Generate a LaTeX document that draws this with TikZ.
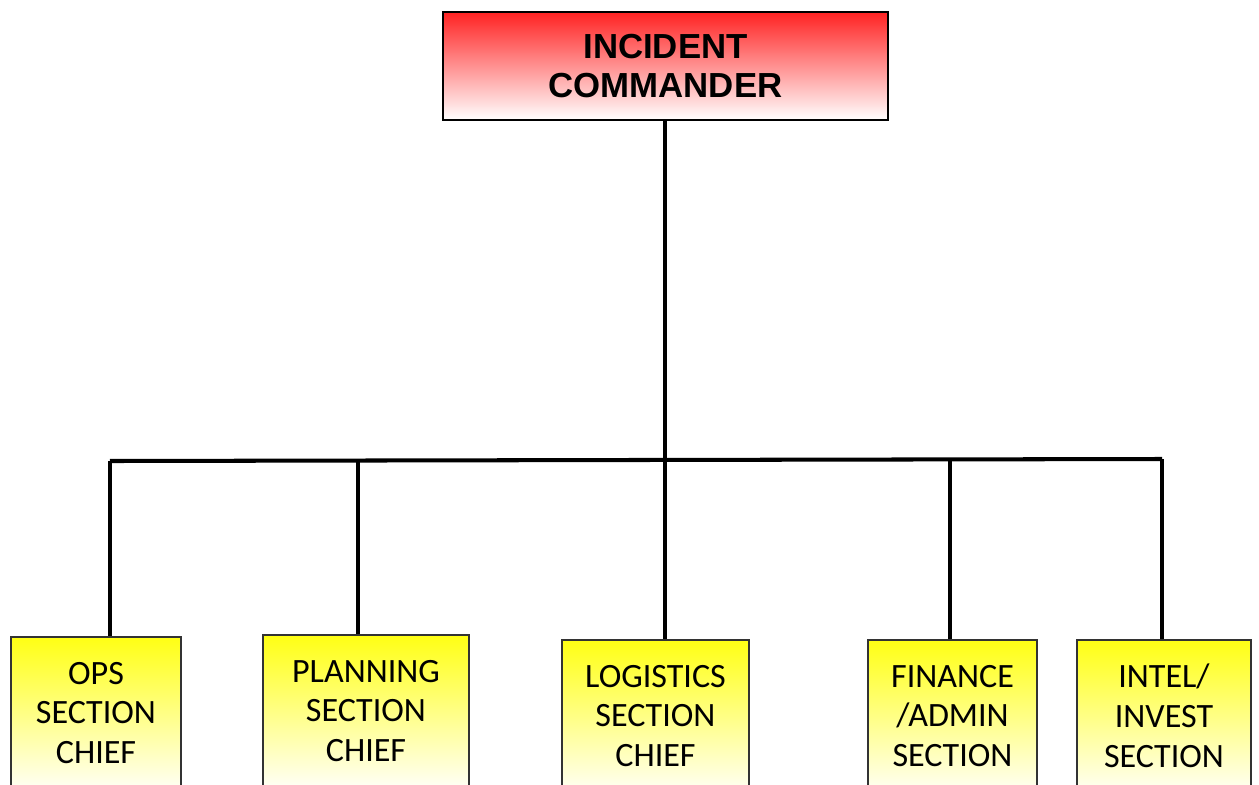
\documentclass[tikz,border=0pt]{standalone}
\usepackage{fontspec}
\setmainfont{Carlito}
\newfontfamily\headfont{Liberation Sans}
\begin{document}
\begin{tikzpicture}[x=0.02cm,y=-0.02cm,
    headbox/.style={draw=black,line width=1.2pt,rectangle,minimum width=8.9cm,minimum height=2.16cm,
        top color={rgb,255:red,255;green,35;blue,35},middle color={rgb,255:red,255;green,165;blue,165},
        bottom color=white,
        font=\headfont\bfseries\fontsize{19.8}{22.7}\selectfont,align=center},
    secbox/.style={draw=black!80,line width=0.8pt,rectangle,minimum height=3.04cm,
        top color={rgb,255:red,255;green,255;blue,20},bottom color={rgb,255:red,255;green,255;blue,245},
        font=\fontsize{19.4}{22.7}\selectfont,align=center},
    link/.style={line width=2.3pt}]
    \useasboundingbox (0,0) rectangle (1259,785);
    \clip (0,0) rectangle (1259,785);

    \node[headbox] (ic) at (665.5,66) {INCIDENT\\COMMANDER};

    \node[secbox,minimum width=3.4cm] (ops) at (96,713) {OPS\\SECTION\\CHIEF};
    \node[secbox,minimum width=4.12cm] (plan) at (366,711) {PLANNING\\SECTION\\CHIEF};
    \node[secbox,minimum width=3.74cm] (logs) at (655.5,716) {LOGISTICS\\SECTION\\CHIEF};
    \node[secbox,minimum width=3.38cm] (fin) at (952.5,716) {FINANCE\\/ADMIN\\SECTION};
    \node[secbox,minimum width=3.48cm] (intel) at (1164,716) {INTEL/\\INVEST\\SECTION};

    % points on the bar
    \coordinate (b1) at (110,461);
    \coordinate (b2) at (358,461);
    \coordinate (b3) at (665,460);
    \coordinate (b4) at (950,460);
    \coordinate (b5) at (1162,459);

    \draw[link] (b1) -- (b5);
    \draw[link] (ic.south -| b3) -- (b3) -- (b3 |- logs.north);
    \draw[link] (b1) -- (b1 |- ops.north);
    \draw[link] (b2) -- (b2 |- plan.north);
    \draw[link] (b4) -- (b4 |- fin.north);
    \draw[link] (b5) -- (b5 |- intel.north);
\end{tikzpicture}
\end{document}
